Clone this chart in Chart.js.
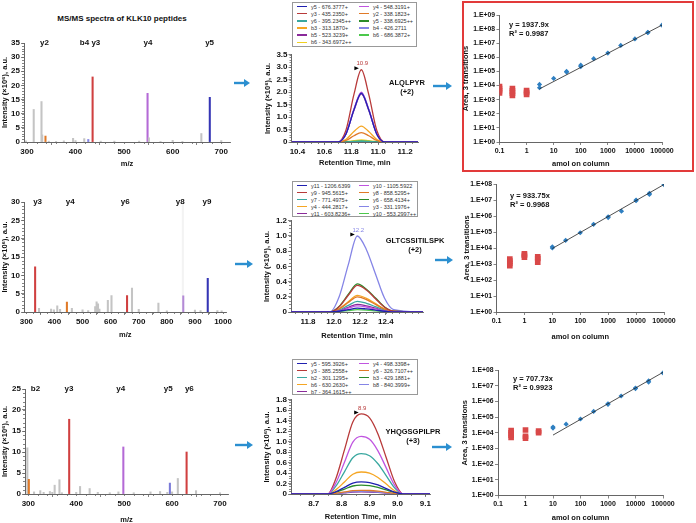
<!DOCTYPE html>
<html>
<head>
<meta charset="utf-8">
<script src="https://cdn.jsdelivr.net/npm/chart.js@4.4.1/dist/chart.umd.min.js"></script>
<style>
html,body{margin:0;padding:0;background:#fff;}
body{width:696px;height:523px;position:relative;overflow:hidden;font-family:"Liberation Sans",Arial,sans-serif;color:#111;}
.t{position:absolute;font-weight:bold;font-size:7.5px;white-space:nowrap;line-height:9px;}
.lg{position:absolute;box-sizing:border-box;border:1px solid #999;background:#fff;display:grid;grid-template-columns:62px 60px;padding:0 0 0 4px;font-size:5.5px;color:#333;}
.it{display:flex;align-items:center;white-space:nowrap;height:7px;}
.sw{display:inline-block;width:10px;height:1.6px;margin-right:4px;}
#box{position:absolute;left:462px;top:1px;width:232px;height:171px;box-sizing:border-box;border:2px solid #e23a3a;}
svg{position:absolute;left:0;top:0;}
</style>
</head>
<body>
<div class="t" style="left:122px;top:14px;transform:translateX(-50%);font-size:8px">MS/MS spectra of KLK10 peptides</div>
<div id="box"></div>

<script>
const FONT = '"Liberation Sans", Arial, sans-serif';
Chart.defaults.font.family = FONT;
Chart.defaults.color = '#111';
Chart.defaults.animation = false;

// ---------- MS/MS spectra ----------
const spec1Mz  = [298,314,330,331.5,338.2,345,360,376,395,400,418,426.3,435.2,452,480,531,548.3,551,575,600,620,659,676.4,700];
const spec1Int = [0.4,11.5,14.3,2.5,2.1,0.3,0.2,0.4,1.3,0.5,1.2,0.9,23,0.3,0.3,0.3,17.2,1.5,0.2,0.6,0.2,3,15.8,0.5];
const spec1Ion = ['','','','','y2','','','','','','','b4','y3','','','','y4','','','','','','y5',''];
const spec1Labels = ['y2','b4 y3','y4','y5'];
const spec1LabelMz = [336,430,549,676];

const spec2Mz  = [331.2,345,388,398,410,420,444.3,462,500,520,545,550,555,560,590,603,658.4,676,700,770,800,857,858.5,900,920,945.6,980,995];
const spec2Int = [12.3,1,0.8,0.6,1.7,0.7,2.7,1,0.6,0.4,1.5,2.8,2.2,0.8,3.2,4.5,4.5,6.5,0.7,2.4,0.3,30,4.4,0.5,0.4,9.2,0.4,0.3];
const spec2Ion = ['y3','','','','','','y4','','','','','','','','','','y6','','','','','bg','y8','','','y9','',''];
const spec2Labels = ['y3','y4','y6','y8','y9'];
const spec2LabelMz = [340,456,652,848,943];

const spec3Mz  = [298,301.1,312,325,332,345,350,355,365,370,385.3,400,408,428,445,470,488,498.3,520,555,575,590,595.4,600,612,630.3,650,700];
const spec3Int = [11,3.5,0.5,0.8,0.4,0.6,0.4,2.1,3.4,0.3,17.8,0.4,1.8,1.3,0.4,0.3,0.5,11.2,0.3,0.5,0.6,0.4,2.6,0.5,3.7,10,0.8,0.3];
const spec3Ion = ['','b2','','','','','','','','','y3','','','','','','','y4','','','','','y5','','','y6','',''];
const spec3Labels = ['b2','y3','y4','y5','y6'];
const spec3LabelMz = [315,385,493,592,636];

const spec1XTicks = [300,400,500,600,700];
const spec2XTicks = [300,400,500,600,700,800,900,1000];
const spec3XTicks = [300,400,500,600,700];
const spec1YTicks = [0,5,10,15,20,25,30,35];
const spec2YTicks = [0,5,10,15,20,25,30];
const spec3YTicks = [0,5,10,15,20,25];

// ---------- XIC chromatograms ----------
const chrom1Names = ['y5 - 676.3777+','y4 - 548.3191+','y3 - 435.2350+','y2 - 338.1823+','y6 - 395.2345++','y5 - 338.6925++','b3 - 313.1870+','b4 - 426.2711','b5 - 523.3239+','b6 - 686.3872+','b6 - 343.6972++'];
const chrom1Time = [10.356,10.70,10.76,10.82,10.875,10.93,10.99,11.05,11.296];
const chrom1Vals = [
  [0,0,0.31,1.29,1.96,1.29,0.31,0,0],
  [0,0,0.32,1.32,2.0,1.32,0.32,0,0],
  [0,0,0.46,1.91,2.9,1.91,0.46,0,0],
  [0,0,0.06,0.25,0.38,0.25,0.06,0,0],
  [0,0,0.005,0.02,0.03,0.02,0.005,0,0],
  [0,0,0,0.013,0.02,0.013,0,0,0],
  [0,0,0.1,0.42,0.64,0.42,0.1,0,0],
  [0,0,0.32,1.31,1.98,1.31,0.32,0,0],
  [0,0,0.31,1.27,1.93,1.27,0.31,0,0],
  [0,0,0.005,0.02,0.03,0.02,0.005,0,0],
  [0,0,0.01,0.05,0.08,0.05,0.01,0,0]
];
const chrom2Names = ['y11 - 1206.6399','y10 - 1105.5922','y9 - 945.5615+','y8 - 858.5295+','y7 - 771.4975+','y6 - 658.4134+','y4 - 444.2817+','y3 - 331.1976+','y11 - 603.8236+','y10 - 553.2997++'];
const chrom2Time = [11.669,11.97,12.04,12.11,12.18,12.25,12.32,12.39,12.46,12.686];
const chrom2Vals = [
  [0,0,0.01,0.03,0.05,0.04,0.025,0.01,0,0],
  [0,0,0.016,0.05,0.08,0.066,0.04,0.014,0.002,0],
  [0,0,0.07,0.22,0.35,0.29,0.175,0.063,0.01,0],
  [0,0,0.04,0.124,0.2,0.164,0.1,0.036,0.006,0],
  [0,0,0.028,0.087,0.14,0.115,0.07,0.025,0.004,0],
  [0,0,0.074,0.23,0.37,0.3,0.185,0.067,0.011,0],
  [0,0,0.044,0.136,0.22,0.18,0.11,0.04,0.007,0],
  [0,0,0.2,0.62,1.0,0.82,0.5,0.18,0.03,0],
  [0,0,0.02,0.062,0.1,0.082,0.05,0.018,0.003,0],
  [0,0,0.006,0.019,0.03,0.025,0.015,0.005,0.001,0]
];
const chrom3Names = ['y5 - 595.3926+','y4 - 498.3398+','y3 - 385.2558+','y6 - 326.7107++','b2 - 301.1295+','b3 - 429.1881+','b6 - 630.2630+','b8 - 840.3999+','b7 - 364.1615++'];
const chrom3Time = [8.6185,8.75,8.78,8.81,8.84,8.87,8.90,8.93,8.96,8.99,9.02,9.1165];
const chrom3Vals = [
  [0,0,0.046,0.127,0.207,0.23,0.219,0.173,0.104,0.035,0,0],
  [0,0,0.22,0.605,0.99,1.1,1.045,0.825,0.495,0.165,0,0],
  [0,0,0.306,0.842,1.377,1.53,1.454,1.148,0.689,0.23,0,0],
  [0,0,0.014,0.039,0.063,0.07,0.067,0.053,0.032,0.011,0,0],
  [0,0,0.154,0.424,0.693,0.77,0.732,0.578,0.347,0.116,0,0],
  [0,0,0.034,0.094,0.153,0.17,0.162,0.128,0.077,0.026,0,0],
  [0,0,0.084,0.231,0.378,0.42,0.399,0.315,0.189,0.063,0,0],
  [0,0,0.01,0.028,0.045,0.05,0.048,0.038,0.023,0.008,0,0],
  [0,0,0.008,0.022,0.036,0.04,0.038,0.03,0.018,0.006,0,0]
];
const chrom1XTicks = [10.4,10.6,10.8,11.0,11.2];
const chrom1XLabels = ['10.4','10.6','11.8','11.0','11.2'];
const chrom2XTicks = [11.8,12.0,12.2,12.4];
const chrom2XLabels = ['11.8','12.0','12.2','12.4'];
const chrom3XTicks = [8.7,8.8,8.9,9.0,9.1];
const chrom3XLabels = ['8.7','8.8','8.9','9.0','9.1'];
const chrom1YTicks = [0,0.5,1,1.5,2,2.5,3,3.5];
const chrom1YLabels = ['0','0.5','1.0','1.5','2.0','2.5','3.0','3.5'];
const chrom2YTicks = [0,0.2,0.4,0.6,0.8,1.0,1.2];
const chrom2YLabels = ['0','0.2','0.4','0.6','0.8','1.0','1.2'];
const chrom3YTicks = [0,0.2,0.4,0.6,0.8,1.0,1.2,1.4,1.6,1.8];
const chrom3YLabels = ['0','0.2','0.4','0.6','0.8','1.0','1.2','1.4','1.6','1.8'];
const apexTime = [10.875,12.18,8.87];
const apexText = ['10.9','12.2','8.9'];
const peptides = [['ALQLPYR','(+2)'],['GLTCSSITILSPK','(+2)'],['YHQGSGPILPR','(+3)']];

// ---------- calibration curves ----------
const cal1BlueX = [3,3,10,30,30,100,100,300,1000,3000,10000,30000,30000,100000];
const cal1BlueY = [1.2e4,7e3,3.2e4,1e5,9e4,2.2e5,2.8e5,8e5,2e6,7e6,2e7,6e7,5.5e7,1.9e8];
const cal1RedX  = [0.1,0.1,0.1,0.1,0.3,0.3,0.3,0.3,1,1,1];
const cal1RedY  = [3e3,4.3e3,6e3,8.5e3,2e3,2.9e3,4.2e3,6.2e3,2.4e3,3.2e3,4.4e3];
const cal1TrendX = [3,100000];
const cal1TrendY = [5800,1.94e8];
const cal2BlueX = [10,10,30,100,300,1000,1000,3000,10000,10000,30000,30000,100000];
const cal2BlueY = [1.2e4,1e4,3e4,9e4,3e5,9e5,8e5,2e6,1e7,9e6,2.2e7,2.6e7,9e7];
const cal2RedX  = [0.3,0.3,0.3,0.3,1,1,1,3,3,3];
const cal2RedY  = [8e2,1.1e3,1.5e3,2e3,2.7e3,3.5e3,4.3e3,2.2e3,2.8e3,1.3e3];
const cal2TrendX = [10,100000];
const cal2TrendY = [9300,9.3e7];
const cal3BlueX = [10,10,30,100,300,1000,1000,3000,10000,10000,30000,30000,100000];
const cal3BlueY = [2.3e4,2e4,3.5e4,7.5e4,2.3e5,6.5e5,7e5,2.2e6,7e6,6.5e6,2e7,1.7e7,6.5e7];
const cal3RedX  = [0.3,0.3,0.3,0.3,1,1,1,3,3];
const cal3RedY  = [5e3,7e3,1e4,1.4e4,1.5e4,4.5e3,6e3,1e4,1.3e4];
const cal3TrendX = [10,100000];
const cal3TrendY = [7100,7.1e7];
const calEq = [['y = 1937.9x','R² = 0.9987'],['y = 933.75x','R² = 0.9968'],['y = 707.73x','R² = 0.9923']];
const calXTicks = [0.1,1,10,100,1000,10000,100000];
const calXLabels = ['0.1','1','10','100','1000','10000','100000'];
const cal1YTicks = [1,10,1e2,1e3,1e4,1e5,1e6,1e7,1e8,1e9];
const cal1YLabels = ['1.E+00','1.E+01','1.E+02','1.E+03','1.E+04','1.E+05','1.E+06','1.E+07','1.E+08','1.E+09'];
const cal2YTicks = [1,10,1e2,1e3,1e4,1e5,1e6,1e7,1e8];
const cal2YLabels = ['1.E+00','1.E+01','1.E+02','1.E+03','1.E+04','1.E+05','1.E+06','1.E+07','1.E+08'];

// ---------- styles ----------
const tracePalette = ['#2020b0','#c055e0','#b83a3a','#e07a28','#3aa8a0','#2a8a2a','#f5a623','#8585e6','#8a2a9a','#4cc84c','#f0d020'];
const spec1Colors = {y2:'#e07a28', b4:'#8585e6', y3:'#d04040', y4:'#b46ad6', y5:'#3535b5'};
const spec2Colors = {y3:'#d04040', y4:'#e07a28', y6:'#d04040', y8:'#b48ad6', y9:'#3535b5', bg:'#f3f3f3'};
const spec3Colors = {b2:'#e07a28', y3:'#d04040', y4:'#b46ad6', y5:'#7a7ad8', y6:'#d04040'};
const GRAY = '#c4c4c4';
const AXIS = '#666';

// ---------- plugins ----------
const minorTicks = {
  id:'minorTicks',
  afterDraw(chart, args, o){
    const ctx = chart.ctx, {x, y} = chart.scales;
    ctx.save(); ctx.strokeStyle = AXIS; ctx.lineWidth = 0.8;
    if (o.x) {
      const n0 = Math.ceil(x.min / o.x - 1e-6), n1 = Math.floor(x.max / o.x + 1e-6);
      for (let n = n0; n <= n1; n++) {
        const p = Math.round(x.getPixelForValue(n * o.x)) + 0.5;
        ctx.beginPath(); ctx.moveTo(p, y.bottom); ctx.lineTo(p, y.bottom + 2); ctx.stroke();
      }
    }
    if (o.y) {
      const n0 = Math.ceil(y.min / o.y - 1e-6), n1 = Math.floor(y.max / o.y + 1e-6);
      for (let n = n0; n <= n1; n++) {
        const p = Math.round(y.getPixelForValue(n * o.y)) + 0.5;
        ctx.beginPath(); ctx.moveTo(x.left - 2, p); ctx.lineTo(x.left, p); ctx.stroke();
      }
    }
    ctx.restore();
  }
};
const ionText = {
  id:'ionText',
  afterDraw(chart, args, o){
    const ctx = chart.ctx, {x, y} = chart.scales;
    ctx.save(); ctx.font = 'bold 8px ' + FONT; ctx.fillStyle = '#111';
    ctx.textAlign = 'center'; ctx.textBaseline = 'middle';
    o.labels.forEach((t, i) => ctx.fillText(t, x.getPixelForValue(o.mz[i]), y.getPixelForValue(o.at)));
    ctx.restore();
  }
};
const apexMark = {
  id:'apexMark',
  afterDatasetsDraw(chart, args, o){
    const ctx = chart.ctx, {x, y} = chart.scales;
    const px = x.getPixelForValue(o.t), py = y.getPixelForValue(o.v);
    ctx.save();
    ctx.fillStyle = '#000';
    ctx.beginPath(); ctx.moveTo(px - 7, py - 3.5); ctx.lineTo(px - 7, py + 0.5); ctx.lineTo(px - 2.5, py - 1.5); ctx.closePath(); ctx.fill();
    ctx.fillStyle = o.color; ctx.font = '6px ' + FONT; ctx.textAlign = 'center'; ctx.textBaseline = 'bottom';
    ctx.fillText(o.text, px + 1, py - 3);
    ctx.restore();
  }
};

// ---------- helpers ----------
function scale(o){
  return {
    type:o.type || 'linear', min:o.min, max:o.max, offset:false,
    afterBuildTicks:s => { s.ticks = o.ticks.map(v => ({value:v})); },
    grid:{display:true, drawOnChartArea:false, drawTicks:true, tickLength:3, color:AXIS, lineWidth:0.8},
    border:{display:true, color:AXIS, width:1},
    ticks:{font:{size:o.fs || 8, weight:'bold'}, color:'#111', padding:o.pad || 1, maxRotation:0, autoSkip:false,
      callback:(v, i) => o.labels ? o.labels[i] : String(o.ticks[i])},
    title:{display:true, text:o.title, font:{size:7.5, weight:'bold'}, padding:0, color:'#111'}
  };
}
function mount(area, yW, xH, pad, cfg){
  const [x0, y0, x1, y1] = area;
  const left = Math.round(x0 - yW - pad.l), top = Math.round(y0 - pad.t);
  const w = Math.round(x1 + pad.r - left), h = Math.round(y1 + xH - top);
  const cv = document.createElement('canvas');
  cv.width = w; cv.height = h;
  cv.style.cssText = `position:absolute;left:${left}px;top:${top}px;width:${w}px;height:${h}px`;
  document.body.appendChild(cv);
  cfg.options.responsive = false;
  cfg.options.maintainAspectRatio = false;
  cfg.options.layout = {padding:{left:pad.l, right:pad.r, top:pad.t, bottom:0}};
  cfg.options.plugins = Object.assign({legend:{display:false}, tooltip:{enabled:false}}, cfg.options.plugins);
  cfg.options.scales.x.afterFit = s => { s.height = xH; };
  cfg.options.scales.y.afterFit = s => { s.width = yW; };
  return new Chart(cv, cfg);
}

function spectrum(area, xH, mz, inten, ion, colors, xr, xTicks, yTicks, labels, labelMz, minorX){
  mount(area, area[0], xH, {l:0, t:6, r:4}, {
    type:'bar',
    data:{datasets:[{
      data:mz.map((m, i) => ({x:m, y:inten[i]})),
      backgroundColor:ion.map(k => colors[k] || GRAY),
      barThickness:1.4, borderWidth:0, grouped:false
    }]},
    options:{
      scales:{
        x:scale({min:xr[0], max:xr[1], ticks:xTicks, title:'m/z', pad:2}),
        y:scale({min:0, max:yTicks[yTicks.length - 1], ticks:yTicks, title:'Intensity (×10⁶), a.u.', pad:1})
      },
      plugins:{minorTicks:{x:minorX, y:1}, ionText:{labels, mz:labelMz, at:yTicks[yTicks.length - 1]}}
    },
    plugins:[minorTicks, ionText]
  });
}

function chrom(area, yW, xH, times, vals, xr, xTicks, xLabels, yTicks, yLabels, minorY, k){
  const top = vals.reduce((a, s, i) => Math.max(...s) > Math.max(...vals[a]) ? i : a, 0);
  mount(area, yW, xH, {l:0, t:4, r:6}, {
    type:'line',
    data:{datasets:vals.map((s, i) => ({
      data:times.map((t, j) => ({x:t, y:s[j]})),
      borderColor:tracePalette[i], borderWidth:1.3, pointRadius:0,
      cubicInterpolationMode:'monotone', fill:false
    }))},
    options:{
      scales:{
        x:scale({min:xr[0], max:xr[1], ticks:xTicks, labels:xLabels, title:'Retention Time, min', pad:2}),
        y:scale({min:0, max:yTicks[yTicks.length - 1], ticks:yTicks, labels:yLabels, title:'Intensity (×10⁶), a.u.', pad:1})
      },
      plugins:{minorTicks:{x:0.05, y:minorY},
        apexMark:{t:apexTime[k], v:Math.max(...vals[top]), text:apexText[k], color:tracePalette[top]}}
    },
    plugins:[minorTicks, apexMark]
  });
}

function calib(area, yW, xH, bx, by, rx, ry, tx, ty, yTicks, yLabels){
  mount(area, yW, xH, {l:0, t:6, r:18}, {
    type:'scatter',
    data:{datasets:[
      {data:tx.map((v, i) => ({x:v, y:ty[i]})), showLine:true, borderColor:'#222', borderWidth:0.8, pointRadius:0},
      {data:bx.map((v, i) => ({x:v, y:by[i]})), pointStyle:'rectRot', radius:2.6, backgroundColor:'#2f7fc1', borderWidth:0},
      {data:rx.map((v, i) => ({x:v, y:ry[i]})), pointStyle:'rect', radius:4, backgroundColor:'#d94848', borderWidth:0}
    ]},
    options:{
      scales:{
        x:scale({type:'logarithmic', min:0.1, max:100000, ticks:calXTicks, labels:calXLabels, title:'amol on column', fs:7, pad:1.5}),
        y:scale({type:'logarithmic', min:1, max:yTicks[yTicks.length - 1], ticks:yTicks, labels:yLabels, title:'Area, 3 transitions', fs:6.8, pad:1.5})
      }
    }
  });
}

function legend(x, y, w, h, names){
  const d = document.createElement('div');
  d.className = 'lg';
  d.style.cssText = `left:${x}px;top:${y}px;width:${w}px;height:${h}px`;
  d.innerHTML = names.map((n, i) =>
    `<div class="it"><span class="sw" style="background:${tracePalette[i]}"></span>${n}</div>`).join('');
  document.body.appendChild(d);
}
function text(x, y, lines, center){
  lines.forEach((s, i) => {
    const d = document.createElement('div');
    d.className = 't';
    d.style.left = x + 'px'; d.style.top = (y + i * 8.5) + 'px';
    if (center) d.style.transform = 'translateX(-50%)';
    d.textContent = s;
    document.body.appendChild(d);
  });
}

// ---------- draw ----------
spectrum([24, 43, 230, 142], 26, spec1Mz, spec1Int, spec1Ion, spec1Colors, [294, 718], spec1XTicks, spec1YTicks, spec1Labels, spec1LabelMz, 20);
spectrum([24, 202, 230, 312], 27, spec2Mz, spec2Int, spec2Ion, spec2Colors, [291.6, 1013], spec2XTicks, spec2YTicks, spec2Labels, spec2LabelMz, 25);
spectrum([25, 389, 228, 494], 30, spec3Mz, spec3Int, spec3Ion, spec3Colors, [293.1, 716.7], spec3XTicks, spec3YTicks, spec3Labels, spec3LabelMz, 20);

chrom([291, 53, 418, 142], 28.5, 25, chrom1Time, chrom1Vals, [10.356, 11.296], chrom1XTicks, chrom1XLabels, chrom1YTicks, chrom1YLabels, 0.1, 0);
chrom([291, 219, 423, 312], 29, 28, chrom2Time, chrom2Vals, [11.669, 12.686], chrom2XTicks, chrom2XLabels, chrom2YTicks, chrom2YLabels, 0.05, 1);
chrom([291, 398, 430, 494], 29, 27, chrom3Time, chrom3Vals, [8.6185, 9.1165], chrom3XTicks, chrom3XLabels, chrom3YTicks, chrom3YLabels, 0.05, 2);

calib([499, 15, 662, 142], 38.5, 26, cal1BlueX, cal1BlueY, cal1RedX, cal1RedY, cal1TrendX, cal1TrendY, cal1YTicks, cal1YLabels);
calib([496, 184, 664, 312], 34.5, 29, cal2BlueX, cal2BlueY, cal2RedX, cal2RedY, cal2TrendX, cal2TrendY, cal2YTicks, cal2YLabels);
calib([498, 370, 663, 495], 38, 26.5, cal3BlueX, cal3BlueY, cal3RedX, cal3RedY, cal3TrendX, cal3TrendY, cal2YTicks, cal2YLabels);

legend(292, 2, 125, 45, chrom1Names);
legend(292, 181, 126, 36, chrom2Names);
legend(292, 359, 126, 36, chrom3Names);

text(407, 78, peptides[0], true);
text(415, 236, peptides[1], true);
text(413, 427, peptides[2], true);
text(509, 20, calEq[0]);
text(510, 191, calEq[1]);
text(513, 374, calEq[2]);

// arrows
const arrows = [[234,83,250],[433,86,452],[235,264,253],[435,260,453],[235,445,253],[432,447,452]];
const svg = document.createElementNS('http://www.w3.org/2000/svg', 'svg');
svg.setAttribute('width', 696); svg.setAttribute('height', 523);
svg.innerHTML = arrows.map(([x0, y, x1]) =>
  `<line x1="${x0}" y1="${y}" x2="${x1 - 5}" y2="${y}" stroke="#2b8fd0" stroke-width="2.4"/>` +
  `<polygon points="${x1 - 6},${y - 4} ${x1},${y} ${x1 - 6},${y + 4}" fill="#2b8fd0"/>`).join('');
document.body.appendChild(svg);
</script>
</body>
</html>
